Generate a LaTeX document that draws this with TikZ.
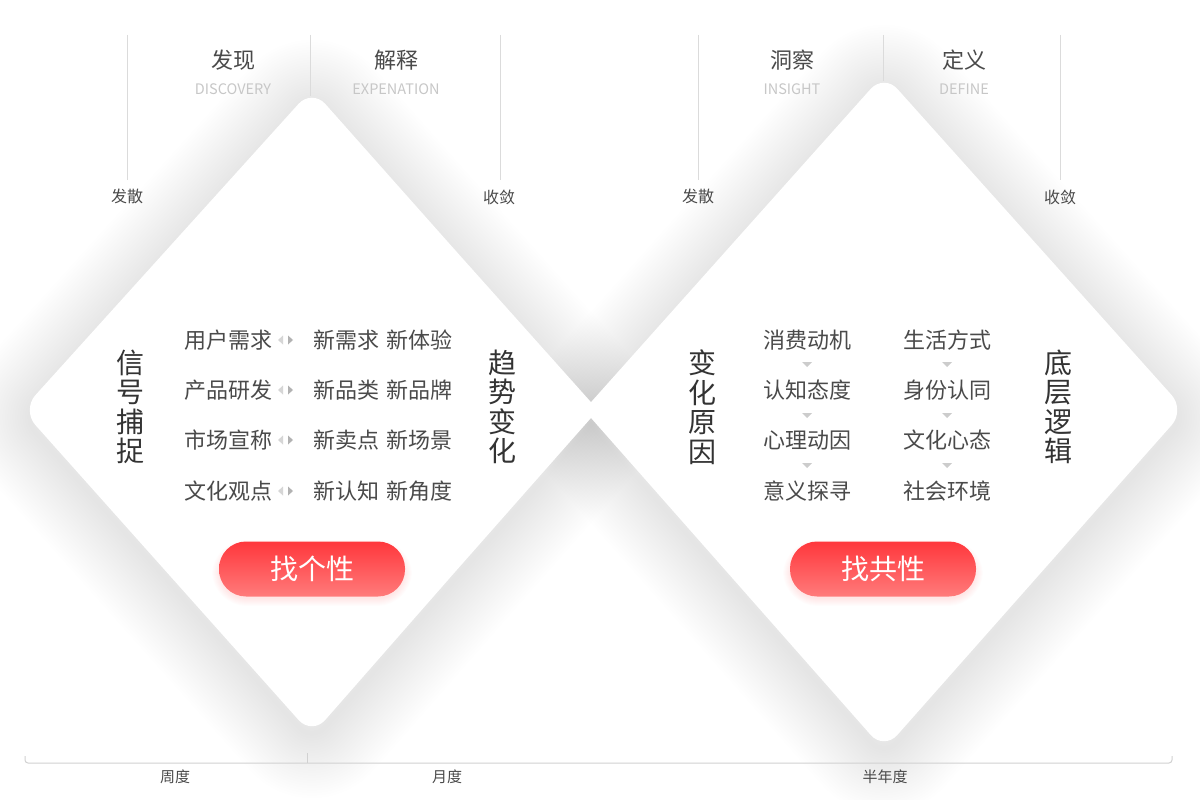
\documentclass[tikz,border=0pt]{standalone}
\usepackage{fontspec}
\newfontfamily\cjk{Noto Sans CJK SC}
\definecolor{btntop}{HTML}{FF373C}
\definecolor{btnbot}{HTML}{FF7B7B}
\definecolor{txt}{HTML}{4A4A4A}
\definecolor{ttl}{HTML}{333333}
\begin{document}
\begin{tikzpicture}[x=1pt,y=-1pt,
  vline/.style={draw=black!14, line width=1pt},
  stage/.style={font=\cjk\fontsize{22}{24}\selectfont, text=txt, inner sep=0},
  eng/.style={font=\cjk\fontsize{14.5}{16}\selectfont, text=black!22, inner sep=0},
  side/.style={font=\cjk\fontsize{16}{18}\selectfont, text=txt, inner sep=0},
  item/.style={font=\cjk\fontsize{22}{24}\selectfont, text=txt, inner sep=0},
  vtitle/.style={font=\cjk\fontsize{28}{29.5}\selectfont, text=ttl, align=center, inner sep=0},
  btn/.style={rounded corners=27pt, minimum width=186pt, minimum height=55pt,
    top color=btntop, bottom color=btnbot, draw=none, text=white,
    font=\cjk\fontsize{28}{30}\selectfont},
  shadowline/.style={draw=black, opacity=0.0032, line join=round},
  btnshadow/.style={draw=red, opacity=0.012, rounded corners=27pt},
  axisline/.style={draw=black!18, line width=1pt},
  lrtri/.style={fill=black!16},
  rrtri/.style={fill=black!30},
  dtri/.style={fill=black!20}
]
\useasboundingbox[fill=white] (0,0) rectangle (1200,800);

\def\leftD{(455,250) -- (598,410) -- (455,572) [rounded corners=20pt] -- (312,735) -- (22,410) -- (312,89) -- cycle}
\def\rightD{(734,242) -- (584,410) -- (734,580) [rounded corners=20pt] -- (884,750) -- (1185,410) -- (884,74) -- cycle}

% shadows
\foreach \w in {5,10,...,130}{
  \draw[shadowline, line width=\w pt, yshift=-7pt] \leftD;
  \draw[shadowline, line width=\w pt, yshift=-7pt] \rightD;
}
\fill[white] \leftD;
\fill[white] \rightD;

% top guide lines
\draw[vline] (127,35) -- (127,180);
\draw[vline] (310,35) -- (310,96);
\draw[vline] (500,35) -- (500,180);
\draw[vline] (698,35) -- (698,180);
\draw[vline] (883,35) -- (883,81);
\draw[vline] (1060,35) -- (1060,180);

% top labels
\node[stage] (s1) at (233,60) {发现};
\node[eng] (e1) at (233,89) {DISCOVERY};
\node[stage] (s2) at (396,60) {解释};
\node[eng] (e2) at (396,89) {EXPENATION};
\node[stage] (s3) at (792,60) {洞察};
\node[eng] (e3) at (792,89) {INSIGHT};
\node[stage] (s4) at (964,60) {定义};
\node[eng] (e4) at (964,89) {DEFINE};
\node[side] (d1) at (127,196) {发散};
\node[side] (c1) at (499,197) {收敛};
\node[side] (d2) at (698,196) {发散};
\node[side] (c2) at (1060,197) {收敛};

% left diamond content
\node[vtitle] (t1) at (130,407) {信\\号\\捕\\捉};
\node[vtitle] (t2) at (502,407) {趋\\势\\变\\化};
\foreach \y/\a/\b [count=\i] in {340/用户需求/新需求\hspace{8pt}新体验,
                     390/产品研发/新品类\hspace{8pt}新品牌,
                     440/市场宣称/新卖点\hspace{8pt}新场景,
                     491/文化观点/新认知\hspace{8pt}新角度}{
  \node[item] (la\i) at (228,\y) {\a};
  \node[item] (lb\i) at (383,\y) {\b};
  \fill[lrtri] (278,\y) -- (283,\y-4.5) -- (283,\y+4.5) -- cycle;
  \fill[rrtri] (293,\y) -- (288,\y-4.5) -- (288,\y+4.5) -- cycle;
}
\foreach \w in {2,4,...,16}{
  \draw[btnshadow, line width=\w pt] (220,548) rectangle (404,598);
  \draw[btnshadow, line width=\w pt] (791,548) rectangle (975,598);
}
\node[btn] (b1) at (312,569) {找个性};

% right diamond content
\node[vtitle] (t3) at (702,407) {变\\化\\原\\因};
\node[vtitle] (t4) at (1058,407) {底\\层\\逻\\辑};
\foreach \y/\a/\b [count=\i] in {340/消费动机/生活方式, 390/认知态度/身份认同,
                                 440/心理动因/文化心态, 491/意义探寻/社会环境}{
  \node[item] (ra\i) at (807,\y) {\a};
  \node[item] (rb\i) at (947,\y) {\b};
}
\foreach \y in {362,413,463}{
  \fill[dtri] (802,\y) -- (812,\y) -- (807,\y+5) -- cycle;
  \fill[dtri] (942,\y) -- (952,\y) -- (947,\y+5) -- cycle;
}
\node[btn] (b2) at (883,569) {找共性};

% bottom axis
\draw[axisline, rounded corners=3pt] (25,756) -- (25,763) -- (1172,763) -- (1172,756);
\draw[axisline] (307,753) -- (307,763);
\node[side, font=\cjk\fontsize{15}{17}\selectfont] (w) at (175,777) {周度};
\node[side, font=\cjk\fontsize{15}{17}\selectfont] (m) at (447,777) {月度};
\node[side, font=\cjk\fontsize{15}{17}\selectfont] (h) at (885,777) {半年度};
\end{tikzpicture}
\end{document}
